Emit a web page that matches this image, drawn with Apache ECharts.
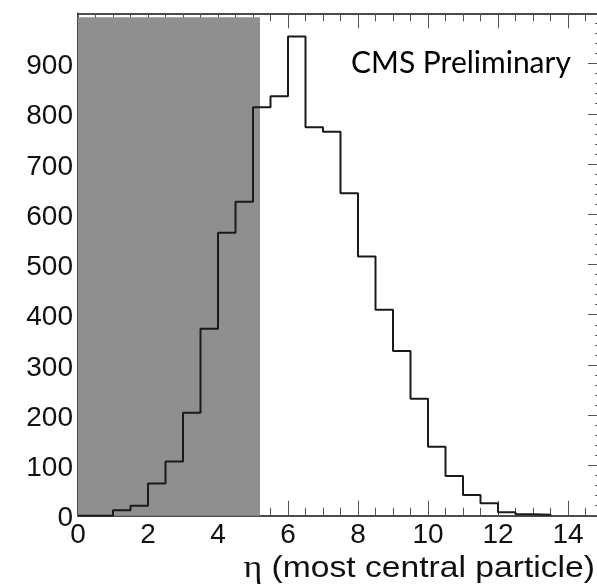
<!DOCTYPE html>
<html><head><meta charset="utf-8">
<script src="https://cdn.jsdelivr.net/npm/echarts@6/dist/echarts.min.js"></script>
<style>html,body{margin:0;padding:0;background:#fff;}#c{width:597px;height:586px;}</style>
</head><body><div id="c"></div>
<script>
// ---- data ----
const binWidth = 0.5;
const binLowEdges = [0, 0.5, 1, 1.5, 2, 2.5, 3, 3.5, 4, 4.5, 5, 5.5, 6, 6.5, 7, 7.5, 8, 8.5, 9, 9.5, 10, 10.5, 11, 11.5, 12, 12.5, 13];
const counts      = [0, 0, 11, 20, 64, 108, 205, 372, 563, 625, 813, 835, 954, 773, 764, 642, 516, 410, 328, 233, 137, 79, 41, 25, 7, 3, 2];
const xTickLabels = [0, 2, 4, 6, 8, 10, 12, 14];
const yTickLabels = [0, 100, 200, 300, 400, 500, 600, 700, 800, 900];
const shadedEta = [0, 5.2];
const shadedTop = 992;
const xRange = [0, 15];
const yRange = [0, 1000];
const stampText = 'CMS Preliminary';

// ---- build ----
const stepData = binLowEdges.map((e, i) => [e, counts[i]]);
stepData.push([binLowEdges[binLowEdges.length - 1] + binWidth, 0]);

const sans = 'Liberation Sans';
const axisCol = '#111';
const tickCol = '#555';

function xAxisDef(pos, interval, len, showLine, showLabel) {
  return {
    type: 'value', position: pos, min: xRange[0], max: xRange[1], interval: interval,
    axisLine: { show: showLine, onZero: false, lineStyle: { color: axisCol, width: 1.5 } },
    axisTick: { show: true, inside: true, length: len, lineStyle: { color: tickCol, width: 1 } },
    axisLabel: {
      show: showLabel, fontFamily: sans, fontSize: 28, color: '#111', margin: 6,
      showMaxLabel: false, showMinLabel: true, hideOverlap: false,
      formatter: v => xTickLabels.includes(v) ? String(v) : ''
    },
    splitLine: { show: false }, minorTick: { show: false }, minorSplitLine: { show: false }
  };
}
function yAxisDef(pos, showLabel) {
  return {
    type: 'value', position: pos, min: yRange[0], max: yRange[1], interval: 100,
    axisLine: { show: true, onZero: false, lineStyle: { color: axisCol, width: 1.5 } },
    axisTick: { show: true, inside: true, length: 15, lineStyle: { color: tickCol, width: 1 } },
    minorTick: { show: true, splitNumber: 5, length: 8, lineStyle: { color: tickCol, width: 1 } },
    axisLabel: {
      show: showLabel, fontFamily: sans, fontSize: 28, color: '#111', margin: 5,
      showMaxLabel: false, showMinLabel: true, hideOverlap: false,
      verticalAlign: 'top', lineHeight: 6,
      formatter: v => yTickLabels.includes(v) ? String(v) : ''
    },
    splitLine: { show: false }, minorSplitLine: { show: false }
  };
}

const chart = echarts.init(document.getElementById('c'), null, { renderer: 'canvas' });
chart.setOption({
  animation: false,
  backgroundColor: '#fff',
  textStyle: { fontFamily: sans },
  grid: { left: 78, top: 13.3, width: 525, height: 502.4, containLabel: false, outerBoundsMode: 'none' },
  xAxis: [
    xAxisDef('bottom', 2, 15, true, true),
    xAxisDef('bottom', 0.5, 8, false, false),
    xAxisDef('top', 2, 15, true, false),
    xAxisDef('top', 0.5, 8, false, false)
  ],
  yAxis: [yAxisDef('left', true), yAxisDef('right', false)],
  series: [{
    type: 'line', xAxisIndex: 0, yAxisIndex: 0, step: 'end', data: stepData,
    showSymbol: false, symbol: 'none',
    lineStyle: { color: '#1a1a1a', width: 2 },
    z: 3,
    markArea: {
      silent: true, z: 1,
      itemStyle: { color: '#8f8f8f', borderWidth: 0 },
      data: [[{ coord: [shadedEta[0], yRange[0]] }, { coord: [shadedEta[1], shadedTop] }]]
    }
  }],
  graphic: [
    { type: 'text', left: 351, top: 48, style: { text: stampText, fontFamily: 'Lato', fontSize: 30, fill: '#000' } },
    { type: 'text', x: 595, y: 569, scaleX: 1.16, style: {
        text: '{g|η} (most central particle)', align: 'right', verticalAlign: 'middle',
        fontFamily: sans, fontSize: 29, fill: '#111',
        rich: { g: { fontFamily: 'Liberation Serif', fontSize: 31, fill: '#111' } }
      } }
  ]
});
</script></body></html>
